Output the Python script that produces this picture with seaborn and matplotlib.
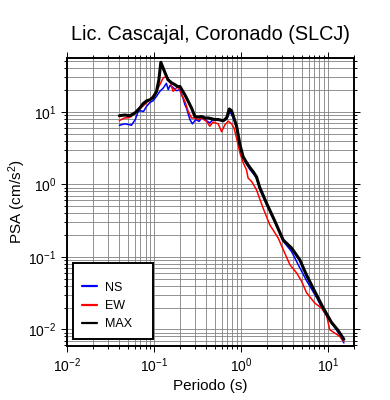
import matplotlib
matplotlib.use("Agg")
import matplotlib.pyplot as plt
import seaborn as sns
from matplotlib.ticker import LogLocator, NullFormatter

title = "Lic. Cascajal, Coronado (SLCJ)"
xlabel = "Periodo (s)"
ylabel = "PSA (cm/s$^2$)"

# NS component
t_ns = [0.040, 0.046, 0.053, 0.055, 0.061, 0.066, 0.070, 0.076, 0.082, 0.090,
        0.098, 0.107, 0.117, 0.128, 0.139, 0.146, 0.153, 0.166, 0.180, 0.199,
        0.216, 0.227, 0.237, 0.259, 0.277, 0.303, 0.331, 0.353, 0.385, 0.439,
        0.478, 0.548, 0.627, 0.686, 0.749, 0.817, 0.893, 0.976, 1.06, 1.16,
        1.27, 1.38, 1.51, 1.65, 1.97, 2.46, 3.06, 3.83, 4.56, 5.69,
        7.41, 9.24, 11.5, 13.7, 15.3]
psa_ns = [6.5, 6.8, 6.6, 6.5, 7.8, 10.1, 10.3, 10.1, 11.8, 13.4,
          14.2, 16.3, 19.1, 21.2, 24.6, 20.1, 23.0, 21.6, 19.5, 20.1,
          15.4, 12.5, 11.2, 7.8, 6.8, 7.8, 7.35, 8.2, 7.8, 7.0,
          7.8, 7.8, 7.5, 7.9, 10.1, 8.2, 6.0, 3.3, 2.3, 1.9,
          1.6, 1.42, 1.22, 0.86, 0.54, 0.30, 0.165, 0.118, 0.078, 0.047,
          0.0276, 0.0167, 0.0115, 0.0084, 0.0065]

# EW component
t_ew = [0.040, 0.042, 0.046, 0.051, 0.055, 0.063, 0.070, 0.082, 0.094, 0.107,
        0.117, 0.128, 0.139, 0.153, 0.166, 0.182, 0.190, 0.208, 0.227, 0.248,
        0.271, 0.296, 0.323, 0.353, 0.402, 0.439, 0.478, 0.548, 0.600, 0.655,
        0.716, 0.782, 0.832, 0.893, 0.976, 1.06, 1.16, 1.21, 1.33, 1.51,
        1.80, 2.15, 2.69, 3.20, 3.66, 4.37, 4.99, 5.69, 7.09, 8.47,
        9.66, 10.5, 12.0, 13.7, 15.3]
psa_ew = [7.5, 7.8, 8.2, 8.3, 8.6, 10.1, 11.2, 13.2, 15.5, 19.1,
          23.6, 29.4, 30.4, 26.2, 19.1, 21.4, 22.1, 17.1, 13.9, 10.1,
          8.2, 8.2, 7.8, 8.2, 7.35, 6.3, 7.2, 6.8, 5.3, 6.6,
          7.4, 6.8, 6.0, 4.3, 2.7, 2.0, 1.58, 1.22, 1.09, 0.84,
          0.47, 0.276, 0.181, 0.112, 0.078, 0.060, 0.046, 0.032, 0.023, 0.0196,
          0.0158, 0.0099, 0.0089, 0.0080, 0.0068]

# MAX
t_max = [0.040, 0.046, 0.053, 0.061, 0.069, 0.075, 0.083, 0.090, 0.098, 0.107,
         0.114, 0.120, 0.134, 0.145, 0.159, 0.174, 0.189, 0.199, 0.227, 0.248,
         0.271, 0.296, 0.323, 0.353, 0.385, 0.421, 0.460, 0.502, 0.548, 0.627,
         0.686, 0.735, 0.782, 0.832, 0.893, 0.976, 1.06, 1.16, 1.27, 1.38,
         1.51, 1.65, 1.97, 2.46, 3.06, 3.83, 4.76, 5.69, 7.2, 8.8,
         11.0, 13.1, 15.3]
psa_max = [8.8, 9.0, 8.8, 9.7, 11.3, 12.9, 14.2, 14.6, 15.8, 18.9,
           27.6, 48.0, 34.5, 27.6, 25.1, 23.6, 22.1, 22.3, 17.1, 13.9,
           11.2, 8.6, 8.45, 8.6, 8.2, 8.2, 8.0, 7.8, 7.8, 7.5,
           8.2, 10.9, 10.3, 8.2, 6.3, 3.5, 2.4, 2.0, 1.7, 1.5,
           1.27, 0.9, 0.55, 0.31, 0.171, 0.132, 0.091, 0.056, 0.032, 0.020,
           0.0125, 0.0097, 0.0073]

sns.set_style("ticks")
plt.rcParams["font.family"] = ["Liberation Sans", "DejaVu Sans"]
plt.rcParams["mathtext.fontset"] = "custom"
plt.rcParams["mathtext.rm"] = "Liberation Sans"
plt.rcParams["mathtext.it"] = "Liberation Sans:italic"
plt.rcParams.update({"text.color": "black", "axes.labelcolor": "black",
                     "xtick.color": "black", "ytick.color": "black"})

fig = plt.figure(figsize=(3.9, 4.0), dpi=100)
ax = fig.add_axes([67 / 390, 54 / 400, 287 / 390, 288 / 400])

sns.lineplot(x=t_ns, y=psa_ns, ax=ax, color="#0000ff", lw=1.1, label="NS",
             estimator=None, sort=False)
sns.lineplot(x=t_ew, y=psa_ew, ax=ax, color="#ff0000", lw=1.1, label="EW",
             estimator=None, sort=False)
sns.lineplot(x=t_max, y=psa_max, ax=ax, color="black", lw=2.2, label="MAX",
             estimator=None, sort=False)

ax.set_xscale("log")
ax.set_yscale("log")
ax.set_xlim(0.01, 20)
ax.set_ylim(0.0059, 55)

for axis in (ax.xaxis, ax.yaxis):
    axis.set_major_locator(LogLocator(base=10, numticks=10))
    axis.set_minor_locator(LogLocator(base=10, subs=range(2, 10), numticks=50))
    axis.set_minor_formatter(NullFormatter())

ax.grid(True, which="both", color="0.5", lw=0.6)
ax.set_axisbelow(True)
for s in ax.spines.values():
    s.set_linewidth(1.4)
    s.set_color("black")
ax.tick_params(which="both", direction="out", top=True, right=True,
               color="black", labelcolor="black", width=0.7, labelsize=10)
ax.tick_params(which="major", length=4)
ax.tick_params(which="minor", length=2.5)

ax.set_title(title, fontsize=14.3, pad=13, color="black")
ax.set_xlabel(xlabel, fontsize=11, labelpad=3)
ax.set_ylabel(ylabel, fontsize=11, labelpad=0)

leg = ax.legend(loc="lower left", bbox_to_anchor=(6 / 287, 7 / 288, 80 / 287, 0.2),
                mode="expand", borderaxespad=0, fontsize=9, frameon=True,
                fancybox=False, framealpha=1, edgecolor="black",
                handlelength=1.2, handletextpad=0.7, labelspacing=0.5,
                borderpad=0.7, title=" ", title_fontsize=3)
leg.get_frame().set_linewidth(1.4)
for line in leg.get_lines():
    line.set_linewidth(1.6)

fig.savefig("out.png", dpi=100)
